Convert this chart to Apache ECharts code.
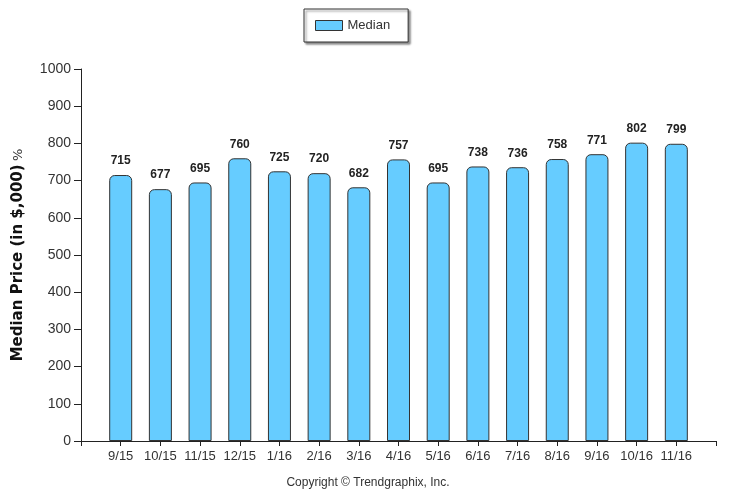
<!DOCTYPE html>
<html>
<head>
<meta charset="utf-8">
<script src="https://cdn.jsdelivr.net/npm/echarts@6/dist/echarts.min.js"></script>
<style>
  html, body { margin: 0; padding: 0; background: #fff; }
  #chart { width: 736px; height: 496px; }
</style>
</head>
<body>
<div id="chart"></div>
<script>
// months along the x axis
var months = ['9/15', '10/15', '11/15', '12/15', '1/16', '2/16', '3/16', '4/16',
              '5/16', '6/16', '7/16', '8/16', '9/16', '10/16', '11/16'];
// median price in $,000
var medianValues = [715, 677, 695, 760, 725, 720, 682, 757, 695, 738, 736, 758, 771, 802, 799];
var yTicks = [0, 100, 200, 300, 400, 500, 600, 700, 800, 900, 1000];

// the axis leaves one empty slot on each side of the bars
var cats = [''].concat(months, ['']);
var vals = [null].concat(medianValues, [null]);

var chart = echarts.init(document.getElementById('chart'));
var option = {
    animation: false,
    backgroundColor: '#fff',
    textStyle: { fontFamily: 'Liberation Sans, Arial, sans-serif' },
    legend: {
        left: 304,
        top: 9,
        padding: [10, 18, 10, 11],
        itemWidth: 27,
        itemHeight: 10,
        itemGap: 6,
        icon: 'rect',
        borderColor: '#333',
        borderWidth: 1,
        backgroundColor: '#fff',
        shadowColor: 'rgba(0,0,0,0.45)',
        shadowBlur: 2,
        shadowOffsetX: 2,
        shadowOffsetY: 2,
        textStyle: { fontSize: 13, color: '#333' },
        data: [{ name: 'Median', itemStyle: { borderColor: '#333', borderWidth: 1 } }]
    },
    grid: { left: 81, right: 20, top: 69, bottom: 55 },
    xAxis: {
        type: 'category',
        data: cats,
        boundaryGap: false,
        axisLine: { lineStyle: { color: '#222', width: 1 } },
        axisTick: { show: true, length: 5, lineStyle: { color: '#222' } },
        axisLabel: { color: '#333', fontSize: 13, margin: 9, interval: 0 }
    },
    yAxis: {
        type: 'value',
        min: yTicks[0],
        max: yTicks[yTicks.length - 1],
        interval: 100,
        name: '{b|Median Price (in $,000)} {p|%}',
        nameLocation: 'middle',
        nameGap: 55,
        nameRotate: 90,
        nameTextStyle: {
            rich: {
                b: { fontFamily: 'DejaVu Sans', fontWeight: 'bold', fontSize: 15, color: '#111' },
                p: { fontFamily: 'DejaVu Sans', fontSize: 13, color: '#333' }
            }
        },
        axisLine: { show: true, lineStyle: { color: '#222', width: 1 } },
        axisTick: { show: true, length: 7, lineStyle: { color: '#222' } },
        axisLabel: { color: '#333', fontSize: 14, margin: 10, formatter: function (v) { return String(v); } },
        splitLine: { show: false }
    },
    series: [{
        name: 'Median',
        type: 'bar',
        data: vals,
        barWidth: 23,
        itemStyle: {
            color: '#66CCFF',
            borderColor: '#333',
            borderWidth: 1,
            borderRadius: [5, 5, 0, 0]
        },
        label: {
            show: true,
            position: 'top',
            distance: 8,
            fontWeight: 'bold',
            fontSize: 12,
            color: '#222'
        }
    }],
    graphic: [{
        type: 'text',
        left: 'center',
        top: 477,
        style: {
            text: 'Copyright \u00A9 Trendgraphix, Inc.',
            fill: '#333',
            font: '12px Liberation Sans, Arial, sans-serif'
        }
    }]
};
chart.setOption(option);
</script>
</body>
</html>
